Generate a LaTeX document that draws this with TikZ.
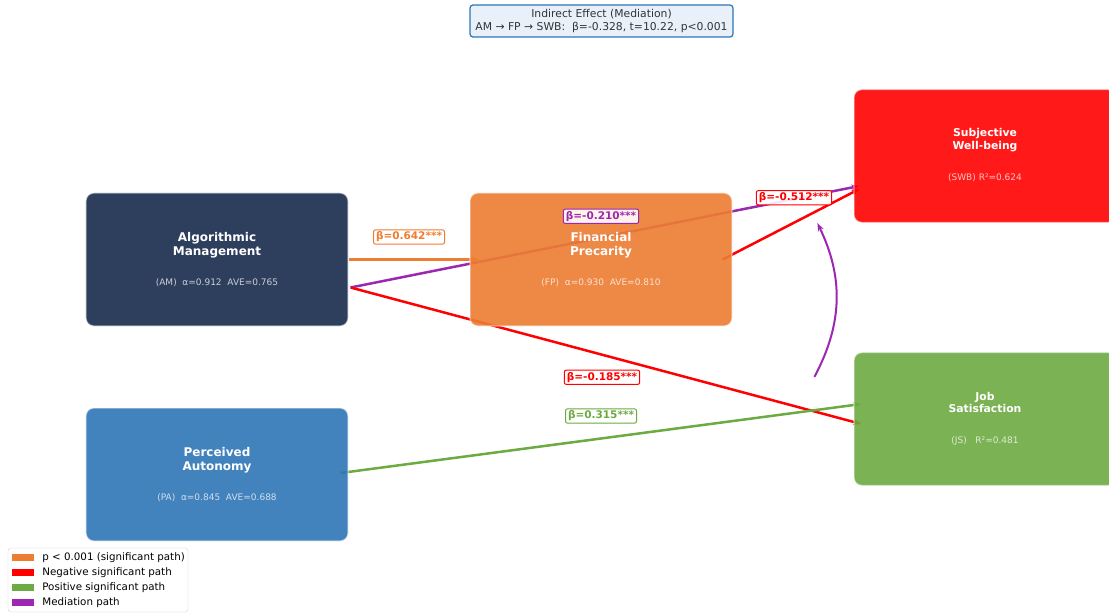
\documentclass[tikz,border=0pt]{standalone}
\usepackage{fontspec}
\setmainfont{DejaVu Sans}
\usetikzlibrary{arrows.meta, positioning, backgrounds}
\definecolor{amnavy}{RGB}{24,42,76}
\definecolor{fporange}{RGB}{237,125,49}
\definecolor{swbred}{RGB}{255,0,0}
\definecolor{jsgreen}{RGB}{108,170,66}
\definecolor{pablue}{RGB}{46,117,182}
\definecolor{medpurple}{RGB}{156,39,176}
\definecolor{notefill}{RGB}{232,241,250}
\definecolor{leggray}{RGB}{210,210,210}

\begin{document}
\begin{tikzpicture}[
  x=1bp, y=-1bp,
  cbox/.style={rectangle, rounded corners=8bp, minimum width=262bp,
    minimum height=133bp, inner sep=0pt, fill=#1, fill opacity=0.9,
    draw=white, draw opacity=0.5, line width=1.2bp},
  ctitle/.style={text=white, inner sep=0pt, align=center,
    font=\fontsize{12bp}{14.5bp}\selectfont\bfseries},
  rtitle/.style={ctitle, font=\fontsize{10.8bp}{12.5bp}\selectfont\bfseries},
  csub/.style={text=white, text opacity=0.75, inner sep=0pt,
    font=\fontsize{9bp}{11bp}\selectfont},
  blabel/.style={draw=#1, text=#1, fill=white, fill opacity=0.9,
    text opacity=1, rounded corners=2bp, line width=1bp,
    inner xsep=2.5bp, inner ysep=2bp,
    font=\fontsize{10.5bp}{12bp}\selectfont\bfseries},
  arr/.style={-{Stealth[length=8bp,width=6bp]}, line width=2.5bp},
  note/.style={draw=pablue, fill=notefill, rounded corners=3bp,
    line width=1.2bp, minimum width=263bp, minimum height=32bp,
    inner sep=0pt, align=center, text=black!80,
    font=\fontsize{10.8bp}{12.5bp}\selectfont},
  legpatch/.style={fill=#1, minimum width=22bp, minimum height=7.5bp,
    inner sep=0pt},
  legtext/.style={inner sep=0pt, anchor=west, text height=7.5bp,
    text depth=2bp, font=\fontsize{10.3bp}{12bp}\selectfont}
]
  \useasboundingbox (0,0) rectangle (1109,614);

  % construct boxes
  \node[cbox=amnavy]   (AM)  at (217,259.5) {};
  \node[cbox=fporange] (FP)  at (601,259.5) {};
  \node[cbox=pablue]   (PA)  at (217,474.5) {};
  \node[cbox=swbred]   (SWB) at (985,156)   {};
  \node[cbox=jsgreen]  (JS)  at (985,419)   {};

  \node[ctitle] (AMt)  at ([yshift=14.5bp]AM.center)  {Algorithmic\\Management};
  \node[csub]   (AMs)  at ([yshift=-23bp]AM.center) {(AM)~~α=0.912~~AVE=0.765};
  \node[ctitle] (FPt)  at ([yshift=14.5bp]FP.center)  {Financial\\Precarity};
  \node[csub]   (FPs)  at ([yshift=-23bp]FP.center) {(FP)~~α=0.930~~AVE=0.810};
  \node[ctitle] (PAt)  at ([yshift=14.5bp]PA.center)  {Perceived\\Autonomy};
  \node[csub]   (PAs)  at ([yshift=-23bp]PA.center) {(PA)~~α=0.845~~AVE=0.688};
  \node[rtitle] (SWBt) at ([yshift=16bp]SWB.center) {Subjective\\Well-being};
  \node[csub]   (SWBs) at ([yshift=-22bp]SWB.center) {(SWB) R²=0.624};
  \node[rtitle] (JSt)  at ([yshift=16.5bp]JS.center)  {Job\\Satisfaction};
  \node[csub]   (JSs)  at ([yshift=-22bp]JS.center) {(JS)~~~R²=0.481};

  % paths, behind the boxes
  \begin{scope}[on background layer]
    \fill[white] (0,0) rectangle (1109,614);
    \draw[arr, fporange, line width=2.8bp]
      (AM.east) -- coordinate (m1) ([xshift=10bp]FP.west);
    \draw[arr, medpurple]
      ([xshift=2bp,yshift=-28bp]AM.east) -- coordinate (m2)
      ([xshift=6bp,yshift=-30bp]SWB.west);
    \draw[arr, swbred]
      ([xshift=2bp,yshift=-28bp]AM.east) -- coordinate (m3)
      ([xshift=8bp,yshift=-5bp]JS.west);
    \draw[arr, swbred]
      ([xshift=-10bp]FP.east) -- coordinate (m4)
      ([xshift=6bp,yshift=-33bp]SWB.west);
    \draw[arr, jsgreen]
      ([xshift=-8bp,yshift=1.5bp]PA.east) -- coordinate (m5)
      ([xshift=8bp,yshift=15bp]JS.west);
  \end{scope}
  \draw[arr, medpurple, line width=2bp]
    ([xshift=-39bp,yshift=-25bp]JS.north west) to[bend right=27]
    ([xshift=-36bp]SWB.south west);

  % path coefficients
  \node[blabel=fporange]  (b1) at ([xshift=-5bp,yshift=22.5bp]m1) {β=0.642***};
  \node[blabel=medpurple] (b2) at ([xshift=-4bp,yshift=20.5bp]m2) {β=-0.210***};
  \node[blabel=swbred]    (b3) at ([xshift=-4bp,yshift=-21.5bp]m3) {β=-0.185***};
  \node[blabel=swbred]    (b4) at ([xshift=3bp,yshift=26.5bp]m4) {β=-0.512***};
  \node[blabel=jsgreen]   (b5) at ([yshift=22.5bp]m5) {β=0.315***};

  % indirect effect note
  \node[note] (eff) at (601.5,21)
    {Indirect Effect (Mediation)\\AM → FP → SWB:~~β=-0.328, t=10.22, p<0.001};

  % legend
  \node[draw=leggray, fill=white, rounded corners=3bp, minimum width=180bp,
        minimum height=64bp, inner sep=0pt] (leg) at (98,580) {};
  \foreach \c/\t [count=\i] in {fporange/p < 0.001 (significant path),
      swbred/Negative significant path, jsgreen/Positive significant path,
      medpurple/Mediation path} {
    \node[legpatch=\c] (lp\i) at (23,542.5+15*\i) {};
    \node[legtext, right=8bp of lp\i] (lt\i) {\t};
  }
\end{tikzpicture}
\end{document}
